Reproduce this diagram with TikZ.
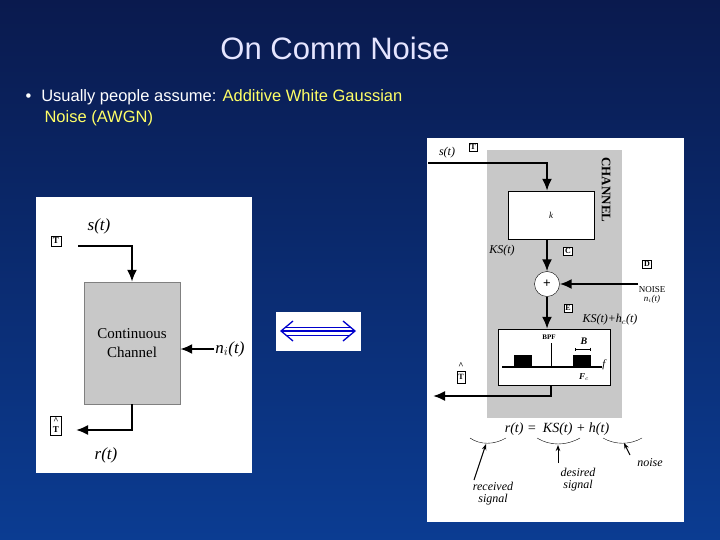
\documentclass[tikz,border=0pt]{standalone}
\usepackage{fontspec}
\setmainfont{Liberation Sans}
\newfontfamily\rmf{Liberation Serif}
\usetikzlibrary{arrows.meta}
\definecolor{bgtop}{HTML}{0A1A4E}
\definecolor{bgbot}{HTML}{0B3C92}
\definecolor{ylw}{HTML}{FFFF66}
\definecolor{chgray}{HTML}{C8C8C8}
\begin{document}
\begin{tikzpicture}[x=1pt,y=-1pt,
  ar/.style={-{Latex[length=12pt,width=10pt]},line width=2pt},
  pn/.style={fill=white,draw=none},
  hw/.style={font=\rmf\itshape\fontsize{12}{12}\selectfont,inner sep=1pt},
  tag/.style={draw,fill=white,font=\rmf\bfseries\fontsize{8}{8}\selectfont,inner sep=1.5pt}]
\shade[top color=bgtop,bottom color=bgbot] (0,0) rectangle (720,540);
\useasboundingbox (0,0) rectangle (720,540);
\node[text=white!90!blue,font=\fontsize{31}{31}\selectfont] (title) at (335,48) {On Comm Noise};
\node[anchor=north west,text=white,font=\fontsize{16.5}{21}\selectfont,align=left] (bul) at (22,86)
 {\textbullet\hspace{10pt}Usually people assume: \textcolor{ylw}{Additive White Gaussian}\\
  \hspace{19pt}\textcolor{ylw}{Noise (AWGN)}};
% left panel
\node[pn,minimum width=216pt,minimum height=276pt] (lp) at (144,335) {};
\node[draw=gray,fill=chgray,minimum width=96pt,minimum height=122pt,align=center,font=\rmf\fontsize{15}{19}\selectfont] (cc) at (132,343) {Continuous\\Channel};
\node[hw,font=\rmf\itshape\fontsize{17}{17}\selectfont] (st) at (99,226) {s(t)};
\node[hw,font=\rmf\itshape\fontsize{17}{17}\selectfont] (ni) at (230,349) {n$_i$(t)};
\node[hw,font=\rmf\itshape\fontsize{17}{17}\selectfont] (rt) at (106,455) {r(t)};
\node[draw,font=\rmf\bfseries\fontsize{9}{9}\selectfont,inner sep=2pt] (T1) at (56,241) {T};
\node[draw,minimum width=11pt,minimum height=19pt] (T2) at (56,426) {};
\node[font=\rmf\bfseries\fontsize{9}{9}\selectfont,inner sep=0pt] (T2a) at (56,430) {T};
\node[font=\rmf\bfseries\fontsize{9}{9}\selectfont,inner sep=0pt] (T2b) at (56,421) {\^{}};
\coordinate (a1) at (78,246); \coordinate (a2) at (132,246);
\draw[ar] (a1) -- (a2) -- (cc.north);
\draw[ar] (ni.west) -- (cc.east |- ni.west);
\coordinate (b1) at (132,430); \coordinate (b2) at (76,430);
\draw[ar] (cc.south) -- (b1) -- (b2);
% middle
\node[pn,minimum width=85pt,minimum height=39pt] (mid) at (318,331) {};
\draw[blue!80!black,line width=1.3pt,{Straight Barb[length=12pt,width=20pt]}-{Straight Barb[length=12pt,width=20pt]}] (280,331) -- (356,331);
\draw[blue!80!black,line width=1pt] (286,327) -- (350,327) (286,335) -- (350,335);
% right panel
\node[pn,minimum width=257pt,minimum height=384pt] (rp) at (555,330) {};
\node[fill=chgray,minimum width=135pt,minimum height=268pt] (ch) at (554,284) {};
\node[rotate=-90,font=\rmf\bfseries\fontsize{13}{13}\selectfont] (chl) at (606,190) {CHANNEL};
\node[draw,fill=white,minimum width=86pt,minimum height=48pt,font=\rmf\itshape\fontsize{9}{9}\selectfont] (k) at (551,215) {k};
\node[draw,fill=white,circle,minimum size=25pt,inner sep=0pt,font=\fontsize{13}{13}\selectfont] (add) at (547,284) {+};
\node[draw,fill=white,minimum width=112pt,minimum height=56pt] (bpf) at (554,357) {};
\node[hw] (st2) at (447,153) {s(t)}; \node[tag] (tT) at (473,147) {T};
\coordinate (s0) at (428,163); \coordinate (s1) at (547,163);
\draw[ar] (s0) -- (s1) -- (k.north -| s1);
\draw[ar] (k.south -| add) -- (add.north);
\node[hw] (ks) at (502,251) {KS(t)}; \node[tag] (tC) at (568,251) {C};
\node[tag] (tD) at (647,264) {D};
\node[hw,font=\rmf\fontsize{9}{9}\selectfont,align=center] (noise) at (652,295) {NOISE\\\textit{n$_i$(t)}};
\coordinate (n0) at (638,284);
\draw[ar] (n0) -- (add.east);
\draw[ar] (add.south) -- (bpf.north -| add);
\node[tag] (tE) at (568,308) {E};
\node[hw] (kn) at (610,320) {KS(t)+h$_c$(t)};
% bpf content
\draw[line width=1.3pt] (502,367) -- (602,367);
\draw[line width=1pt] (551,343) -- (551,367);
\fill (514,355) rectangle (532,367); \fill (573,355) rectangle (591,367);
\node[font=\rmf\bfseries\fontsize{7}{7}\selectfont] (bpfl) at (549,337) {BPF};
\node[font=\rmf\bfseries\itshape\fontsize{10}{10}\selectfont] (bl) at (584,341) {B};
\draw[{Bar[width=3pt]}-{Bar[width=3pt]},line width=0.5pt] (575,349) -- (590,349);
\node[font=\rmf\bfseries\itshape\fontsize{9}{9}\selectfont] (fc) at (584,377) {F$_c$};
\node[font=\rmf\itshape\fontsize{11}{11}\selectfont] (fl) at (604,365) {f};
\node[tag,minimum height=12pt] (tT2) at (461,377) {T};
\node[font=\rmf\bfseries\fontsize{9}{9}\selectfont,inner sep=0pt] (hat2) at (461,366) {\^{}};
\coordinate (o1) at (551,396); \coordinate (o2) at (433,396);
\draw[ar] (bpf.south -| o1) -- (o1) -- (o2);
% equation
\node[hw,font=\rmf\itshape\fontsize{14}{14}\selectfont] (eq) at (557,429) {r(t) = \hspace{3pt}KS(t) + h(t)};
\draw (470,438) .. controls (480,445) and (494,445) .. (506,438);
\draw (537,438) .. controls (550,446) and (566,446) .. (580,438);
\draw (603,438) .. controls (615,445) and (630,445) .. (642,438);
\node[hw,align=center,font=\rmf\itshape\fontsize{12}{12}\selectfont] (rs) at (493,494) {received\\signal};
\node[hw,align=center,font=\rmf\itshape\fontsize{12}{12}\selectfont] (ds) at (578,480) {desired\\signal};
\node[hw,font=\rmf\itshape\fontsize{12}{12}\selectfont] (hn) at (650,463) {noise};
\draw[line width=1pt,-{Stealth[length=6pt]}] (474,480) -- (486,444);
\draw[line width=1pt,-{Stealth[length=6pt]}] (558,463) -- (558,445);
\draw[line width=1pt,-{Stealth[length=6pt]}] (630,455) -- (624,443);
\end{tikzpicture}
\end{document}
